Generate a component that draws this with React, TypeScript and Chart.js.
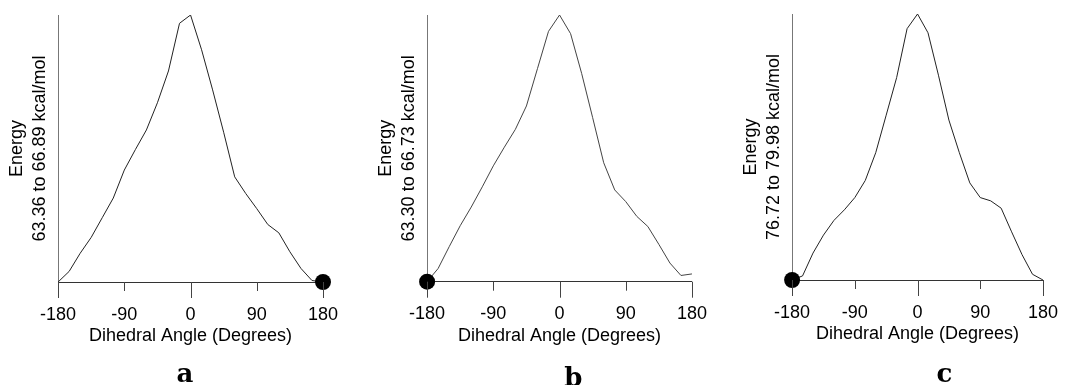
import React, { useEffect, useRef } from 'react';
import { Chart, registerables } from 'chart.js';

Chart.register(...registerables);

// ---- data ----
const angles = [-180, -165, -150, -135, -120, -105, -90, -75, -60, -45, -30, -15, 0, 15, 30, 45, 60, 75, 90, 105, 120, 135, 150, 165, 180];

const energyA = [63.36, 63.50, 63.74, 63.95, 64.21, 64.47, 64.84, 65.11, 65.37, 65.73, 66.15, 66.78, 66.89, 66.43, 65.90, 65.34, 64.75, 64.53, 64.33, 64.12, 64.01, 63.76, 63.54, 63.38, 63.36];
const energyB = [63.30, 63.47, 63.75, 64.02, 64.26, 64.52, 64.79, 65.03, 65.26, 65.56, 66.04, 66.52, 66.73, 66.49, 65.98, 65.41, 64.83, 64.48, 64.33, 64.14, 64.01, 63.78, 63.54, 63.38, 63.40];
const energyC = [76.72, 76.77, 77.05, 77.27, 77.45, 77.58, 77.73, 77.94, 78.28, 78.74, 79.20, 79.80, 79.98, 79.75, 79.23, 78.68, 78.28, 77.91, 77.73, 77.69, 77.60, 77.31, 77.03, 76.79, 76.72];

const rangeA = [63.36, 66.89];
const rangeB = [63.30, 66.73];
const rangeC = [76.72, 79.98];

const minimumA = [{ x: 180, y: 63.36 }];
const minimumB = [{ x: -180, y: 63.30 }];
const minimumC = [{ x: -180, y: 76.72 }];

const yTitleA = ['Energy', '63.36 to 66.89 kcal/mol'];
const yTitleB = ['Energy', '63.30 to 66.73 kcal/mol'];
const yTitleC = ['Energy', '76.72 to 79.98 kcal/mol'];

const xTitle = 'Dihedral Angle (Degrees)';
const xTickValues = [-180, -90, 0, 90, 180];
const panelLetters = ['a', 'b', 'c'];

// ---- layout (not data) ----
const FONT = '"Liberation Sans", Arial, Helvetica, sans-serif';

type PanelSpec = {
  energies: number[];
  range: number[];
  minimum: { x: number; y: number }[];
  yTitle: string[];
  letter: string;
  left: number;
  width: number;
  padTop: number;
  padBottom: number;
  padRight: number;
  letterX: number;
  letterY: number;
  lineColor: string;
};

const panels: PanelSpec[] = [
  { energies: energyA, range: rangeA, minimum: minimumA, yTitle: yTitleA, letter: panelLetters[0], left: 0, width: 360, padTop: 15, padBottom: 37.8, padRight: 34, letterX: 185, letterY: 381.5, lineColor: '#222' },
  { energies: energyB, range: rangeB, minimum: minimumB, yTitle: yTitleB, letter: panelLetters[1], left: 369.2, width: 360, padTop: 15, padBottom: 38.1, padRight: 33.2, letterX: 573.5, letterY: 385.5, lineColor: '#444' },
  { energies: energyC, range: rangeC, minimum: minimumC, yTitle: yTitleC, letter: panelLetters[2], left: 733.6, width: 346.4, padTop: 14, padBottom: 39.8, padRight: 18.3, letterX: 944, letterY: 381.5, lineColor: '#222' },
];

const tickMarks = {
  id: 'tickMarks',
  afterDraw(chart: any) {
    const { ctx, chartArea } = chart;
    const xs = chart.scales.x;
    ctx.save();
    ctx.strokeStyle = '#444';
    ctx.lineWidth = 1;
    xTickValues.forEach((v) => {
      const px = Math.round(xs.getPixelForValue(v)) + 0.5;
      const len = v % 180 === 0 ? 16 : 9;
      ctx.beginPath();
      ctx.moveTo(px, chartArea.bottom);
      ctx.lineTo(px, chartArea.bottom + len);
      ctx.stroke();
    });
    ctx.restore();
  },
};

function Panel({ spec }: { spec: PanelSpec }) {
  const ref = useRef<HTMLCanvasElement | null>(null);
  useEffect(() => {
    if (!ref.current) return;
    const letterPlugin = {
      id: 'panelLetter',
      afterDraw(chart: any) {
        const { ctx } = chart;
        ctx.save();
        ctx.font = 'bold 26px "DejaVu Serif", serif';
        ctx.fillStyle = '#000';
        ctx.textAlign = 'center';
        ctx.textBaseline = 'alphabetic';
        ctx.fillText(spec.letter, spec.letterX - spec.left, spec.letterY);
        ctx.restore();
      },
    };
    const chart = new Chart(ref.current, {
      type: 'line',
      data: {
        datasets: [
          {
            data: spec.minimum,
            showLine: false,
            pointRadius: 8,
            pointHoverRadius: 8,
            pointBackgroundColor: '#000',
            pointBorderColor: '#000',
            pointBorderWidth: 0,
            clip: false as any,
          },
          {
            data: angles.map((a, i) => ({ x: a, y: spec.energies[i] })),
            borderColor: spec.lineColor,
            borderWidth: 1,
            pointRadius: 0,
            tension: 0,
            fill: false,
          },
        ],
      },
      options: {
        animation: false,
        responsive: false,
        events: [],
        layout: { padding: { left: 5.3, top: spec.padTop, bottom: spec.padBottom, right: spec.padRight } },
        plugins: { legend: { display: false }, tooltip: { enabled: false }, title: { display: false } },
        scales: {
          x: {
            type: 'linear',
            min: -180,
            max: 180,
            afterBuildTicks: (scale: any) => {
              scale.ticks = xTickValues.map((v) => ({ value: v }));
            },
            afterFit: (scale: any) => {
              scale.height = 65.2;
            },
            ticks: { color: '#000', padding: 22, font: { family: FONT, size: 18 }, autoSkip: false, maxRotation: 0 },
            grid: { display: false, drawTicks: false },
            border: { display: true, color: '#333', width: 1 },
            title: { display: true, text: xTitle, color: '#000', font: { family: FONT, size: 18, lineHeight: 1.2 }, padding: { top: 0, bottom: 0 } },
          },
          y: {
            type: 'linear',
            min: spec.range[0],
            max: spec.range[1],
            ticks: { display: false },
            grid: { display: false, drawTicks: false },
            border: { display: true, color: '#777', width: 1 },
            title: { display: true, text: spec.yTitle, color: '#000', font: { family: FONT, size: 18, lineHeight: 1.3 }, padding: { top: 0, bottom: 6 } },
          },
        },
      },
      plugins: [tickMarks, letterPlugin],
    } as any);
    return () => chart.destroy();
  }, [spec]);
  return (
    <canvas
      ref={ref}
      width={spec.width}
      height={385}
      style={{ position: 'absolute', left: spec.left, top: 0, width: spec.width, height: 385 }}
    />
  );
}

export default function App() {
  return (
    <div style={{ position: 'absolute', left: 0, top: 0, width: 1080, height: 385, overflow: 'hidden', background: '#fff' }}>
      {panels.map((p) => (
        <Panel key={p.letter} spec={p} />
      ))}
    </div>
  );
}
